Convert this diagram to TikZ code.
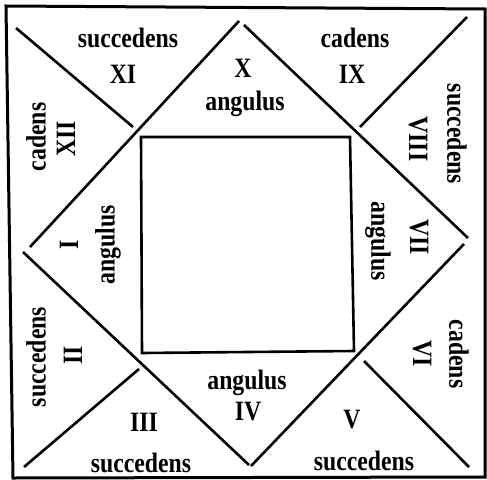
\documentclass[tikz,border=0pt]{standalone}
\usepackage{fontspec}
\setmainfont{Liberation Serif}
\newcommand{\cnd}[1]{\scalebox{0.95}[1.12]{#1}}
\begin{document}
\begin{tikzpicture}[x=1pt,y=-1pt,
  lbl/.style={font=\fontsize{25}{25}\selectfont\bfseries, inner sep=0pt, anchor=center},
  up/.style={lbl, rotate=90},
  down/.style={lbl, rotate=-90},
  rline/.style={line width=2.6pt},
  frame/.style={line width=3pt, line join=miter}]
\useasboundingbox (0,0) rectangle (487,479);
% outer frame
\coordinate (oTL) at (6,6);
\coordinate (oTR) at (485,9);
\coordinate (oBR) at (485,477);
\coordinate (oBL) at (13,478);
\draw[frame] (oTL) -- (oTR) -- (oBR) -- (oBL) -- cycle;
% diamond
\coordinate (dT1) at (239,21);
\coordinate (dT2) at (244,25);
\coordinate (dL1) at (30,247);
\coordinate (dL2) at (23,252);
\coordinate (dB1) at (249,465);
\coordinate (dB2) at (251,466);
\coordinate (dR1) at (468,238);
\coordinate (dR2) at (464,244);
\draw[rline] (dT1) -- (dL1);
\draw[rline] (dL2) -- (dB1);
\draw[rline] (dB2) -- (dR2);
\draw[rline] (dR1) -- (dT2);
% corner diagonals
\coordinate (cTL) at (16,28);
\coordinate (eTL) at (133,127);
\coordinate (cTR) at (467,17);
\coordinate (eTR) at (360,127);
\coordinate (cBL) at (24,467);
\coordinate (eBL) at (139,369);
\coordinate (cBR) at (469,467);
\coordinate (eBR) at (364,361);
\draw[rline] (cTL) -- (eTL);
\draw[rline] (cTR) -- (eTR);
\draw[rline] (cBL) -- (eBL);
\draw[rline] (cBR) -- (eBR);
% inner square
\coordinate (iTL) at (141,137);
\coordinate (iTR) at (350,137);
\coordinate (iBR) at (354,351);
\coordinate (iBL) at (142,353);
\draw[rline] (iTL) -- (iTR) -- (iBR) -- (iBL) -- cycle;
% labels top
\node[lbl] (t1) at (128,38) {\cnd{succedens}};
\node[lbl] (t2) at (123,74) {\cnd{XI}};
\node[lbl] (t3) at (243,68) {\cnd{X}};
\node[lbl] (t4) at (245,104) {\cnd{angulus}};
\node[lbl] (t5) at (355,38) {\cnd{cadens}};
\node[lbl] (t6) at (352,74) {\cnd{IX}};
% left
\node[up] (l1) at (36,137) {\cnd{cadens}};
\node[up] (l2) at (66,139) {\cnd{XII}};
\node[up] (l3) at (69,245) {\cnd{I}};
\node[up] (l4) at (108,245) {\cnd{angulus}};
\node[up] (l5) at (36,357) {\cnd{succedens}};
\node[up] (l6) at (73,355) {\cnd{II}};
% right
\node[down] (r1) at (457,134) {\cnd{succedens}};
\node[down] (r2) at (418,139) {\cnd{VIII}};
\node[down] (r3) at (378,241) {\cnd{angulus}};
\node[down] (r4) at (419,237) {\cnd{VII}};
\node[down] (r5) at (459,354) {\cnd{cadens}};
\node[down] (r6) at (422,354) {\cnd{VI}};
% bottom
\node[lbl] (b1) at (247,383) {\cnd{angulus}};
\node[lbl] (b2) at (248,412) {\cnd{IV}};
\node[lbl] (b3) at (144,422) {\cnd{III}};
\node[lbl] (b4) at (141,463) {\cnd{succedens}};
\node[lbl] (b5) at (352,420) {\cnd{V}};
\node[lbl] (b6) at (364,461) {\cnd{succedens}};
\end{tikzpicture}
\end{document}
